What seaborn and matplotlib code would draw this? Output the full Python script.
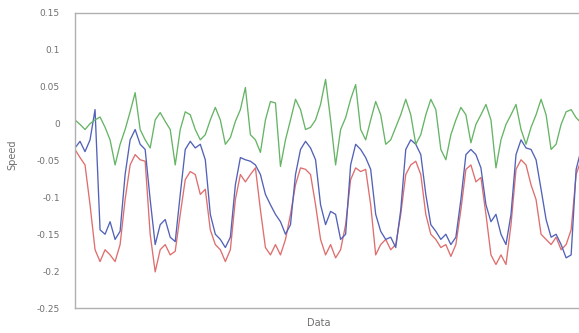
import numpy as np
import pandas as pd
import matplotlib
matplotlib.use("Agg")
import matplotlib.pyplot as plt
import seaborn as sns

green = [0.005, -0.001, -0.008, 0.000, 0.005, 0.009, -0.005, -0.022, -0.056, -0.028,
         -0.008, 0.016, 0.042, -0.008, -0.022, -0.033, 0.005, 0.015, 0.003, -0.008,
         -0.056, -0.008, 0.016, 0.012, -0.008, -0.022, -0.015, 0.005, 0.022, 0.005,
         -0.028, -0.019, 0.003, 0.019, 0.049, -0.015, -0.022, -0.039, 0.005, 0.030,
         0.028, -0.058, -0.022, 0.005, 0.033, 0.019, -0.008, -0.005, 0.005, 0.026,
         0.060, 0.005, -0.056, -0.008, 0.008, 0.033, 0.053, -0.008, -0.022, 0.005,
         0.030, 0.012, -0.028, -0.022, -0.005, 0.012, 0.033, 0.012, -0.028, -0.015,
         0.012, 0.033, 0.019, -0.035, -0.049, -0.015, 0.005, 0.022, 0.012, -0.026,
         -0.001, 0.012, 0.026, 0.005, -0.060, -0.022, -0.001, 0.012, 0.026, -0.008,
         -0.028, -0.005, 0.012, 0.033, 0.012, -0.035, -0.028, -0.001, 0.016, 0.019,
         0.008, 0.001]

blue = [-0.033, -0.024, -0.038, -0.022, 0.019, -0.144, -0.150, -0.133, -0.157, -0.146,
        -0.069, -0.022, -0.008, -0.028, -0.035, -0.103, -0.164, -0.137, -0.130, -0.154,
        -0.160, -0.096, -0.035, -0.024, -0.033, -0.028, -0.049, -0.123, -0.150, -0.157,
        -0.168, -0.154, -0.083, -0.046, -0.049, -0.051, -0.056, -0.069, -0.096, -0.110,
        -0.123, -0.133, -0.150, -0.137, -0.069, -0.035, -0.024, -0.033, -0.049, -0.110,
        -0.137, -0.119, -0.123, -0.157, -0.150, -0.056, -0.028, -0.035, -0.046, -0.062,
        -0.123, -0.146, -0.157, -0.154, -0.168, -0.117, -0.035, -0.022, -0.028, -0.042,
        -0.096, -0.137, -0.146, -0.157, -0.150, -0.164, -0.154, -0.103, -0.042, -0.035,
        -0.042, -0.060, -0.110, -0.133, -0.123, -0.150, -0.164, -0.123, -0.042, -0.022,
        -0.033, -0.035, -0.049, -0.089, -0.130, -0.154, -0.150, -0.164, -0.182, -0.178,
        -0.062, -0.035]

red = [-0.035, -0.046, -0.056, -0.110, -0.171, -0.187, -0.171, -0.178, -0.187, -0.164,
       -0.103, -0.056, -0.042, -0.049, -0.051, -0.150, -0.201, -0.171, -0.164, -0.178,
       -0.173, -0.123, -0.076, -0.065, -0.069, -0.096, -0.089, -0.144, -0.164, -0.171,
       -0.187, -0.171, -0.103, -0.069, -0.079, -0.069, -0.060, -0.117, -0.168, -0.178,
       -0.164, -0.178, -0.157, -0.123, -0.083, -0.060, -0.062, -0.069, -0.110, -0.157,
       -0.178, -0.164, -0.182, -0.171, -0.137, -0.076, -0.060, -0.065, -0.062, -0.110,
       -0.178, -0.164, -0.157, -0.171, -0.164, -0.123, -0.069, -0.056, -0.051, -0.069,
       -0.123, -0.150, -0.157, -0.168, -0.164, -0.180, -0.164, -0.117, -0.062, -0.056,
       -0.079, -0.073, -0.123, -0.178, -0.191, -0.178, -0.191, -0.137, -0.062, -0.049,
       -0.056, -0.083, -0.103, -0.150, -0.157, -0.164, -0.154, -0.171, -0.164, -0.144,
       -0.069, -0.049]

series_names = ["red", "blue", "green"]
y_ticks = [-0.25, -0.2, -0.15, -0.1, -0.05, 0, 0.05, 0.1, 0.15]
y_tick_labels = ["-0.25", "-0.2", "-0.15", "-0.1", "-0.05", "0", "0.05", "0.1", "0.15"]

frames = []
for name, vals in zip(series_names, [red, blue, green]):
    frames.append(pd.DataFrame({"sample": np.arange(len(vals)), "speed": vals, "series": name}))
df = pd.concat(frames, ignore_index=True)

sns.set_theme(style="white")
plt.rcParams["font.family"] = ["DejaVu Sans"]

fig = plt.figure(figsize=(5.79, 3.33), dpi=100)
ax = fig.add_axes([75 / 579, 1 - 308 / 333, 1 - 75 / 579 + 0.002, (308 - 13) / 333])

palette = {"red": "#df6e6e", "blue": "#5262b8", "green": "#66b466"}
sns.lineplot(data=df, x="sample", y="speed", hue="series", palette=palette,
             linewidth=0.95, legend=False, ax=ax, estimator=None)

ax.set_xlim(0, 100.8)
ax.set_ylim(-0.25, 0.15)
ax.set_yticks(y_ticks)
ax.set_yticklabels(y_tick_labels)
ax.set_xticks([])
ax.tick_params(axis="y", length=0, pad=11, labelsize=6.5, labelcolor="#707070")

for side in ["left", "top", "bottom"]:
    ax.spines[side].set_visible(True)
    ax.spines[side].set_color("#b0b0b0")
    ax.spines[side].set_linewidth(1.0)
ax.spines["right"].set_visible(False)

ax.set_xlabel("Data", fontsize=7, color="#707070")
ax.xaxis.set_label_coords((318 - 75) / 504, -(318 - 308) / 295)
ax.set_ylabel("Speed", fontsize=7, color="#707070")
ax.yaxis.set_label_coords(-(75 - 18) / 504, (308 - 155) / 295)

fig.savefig("out.png", dpi=100)
